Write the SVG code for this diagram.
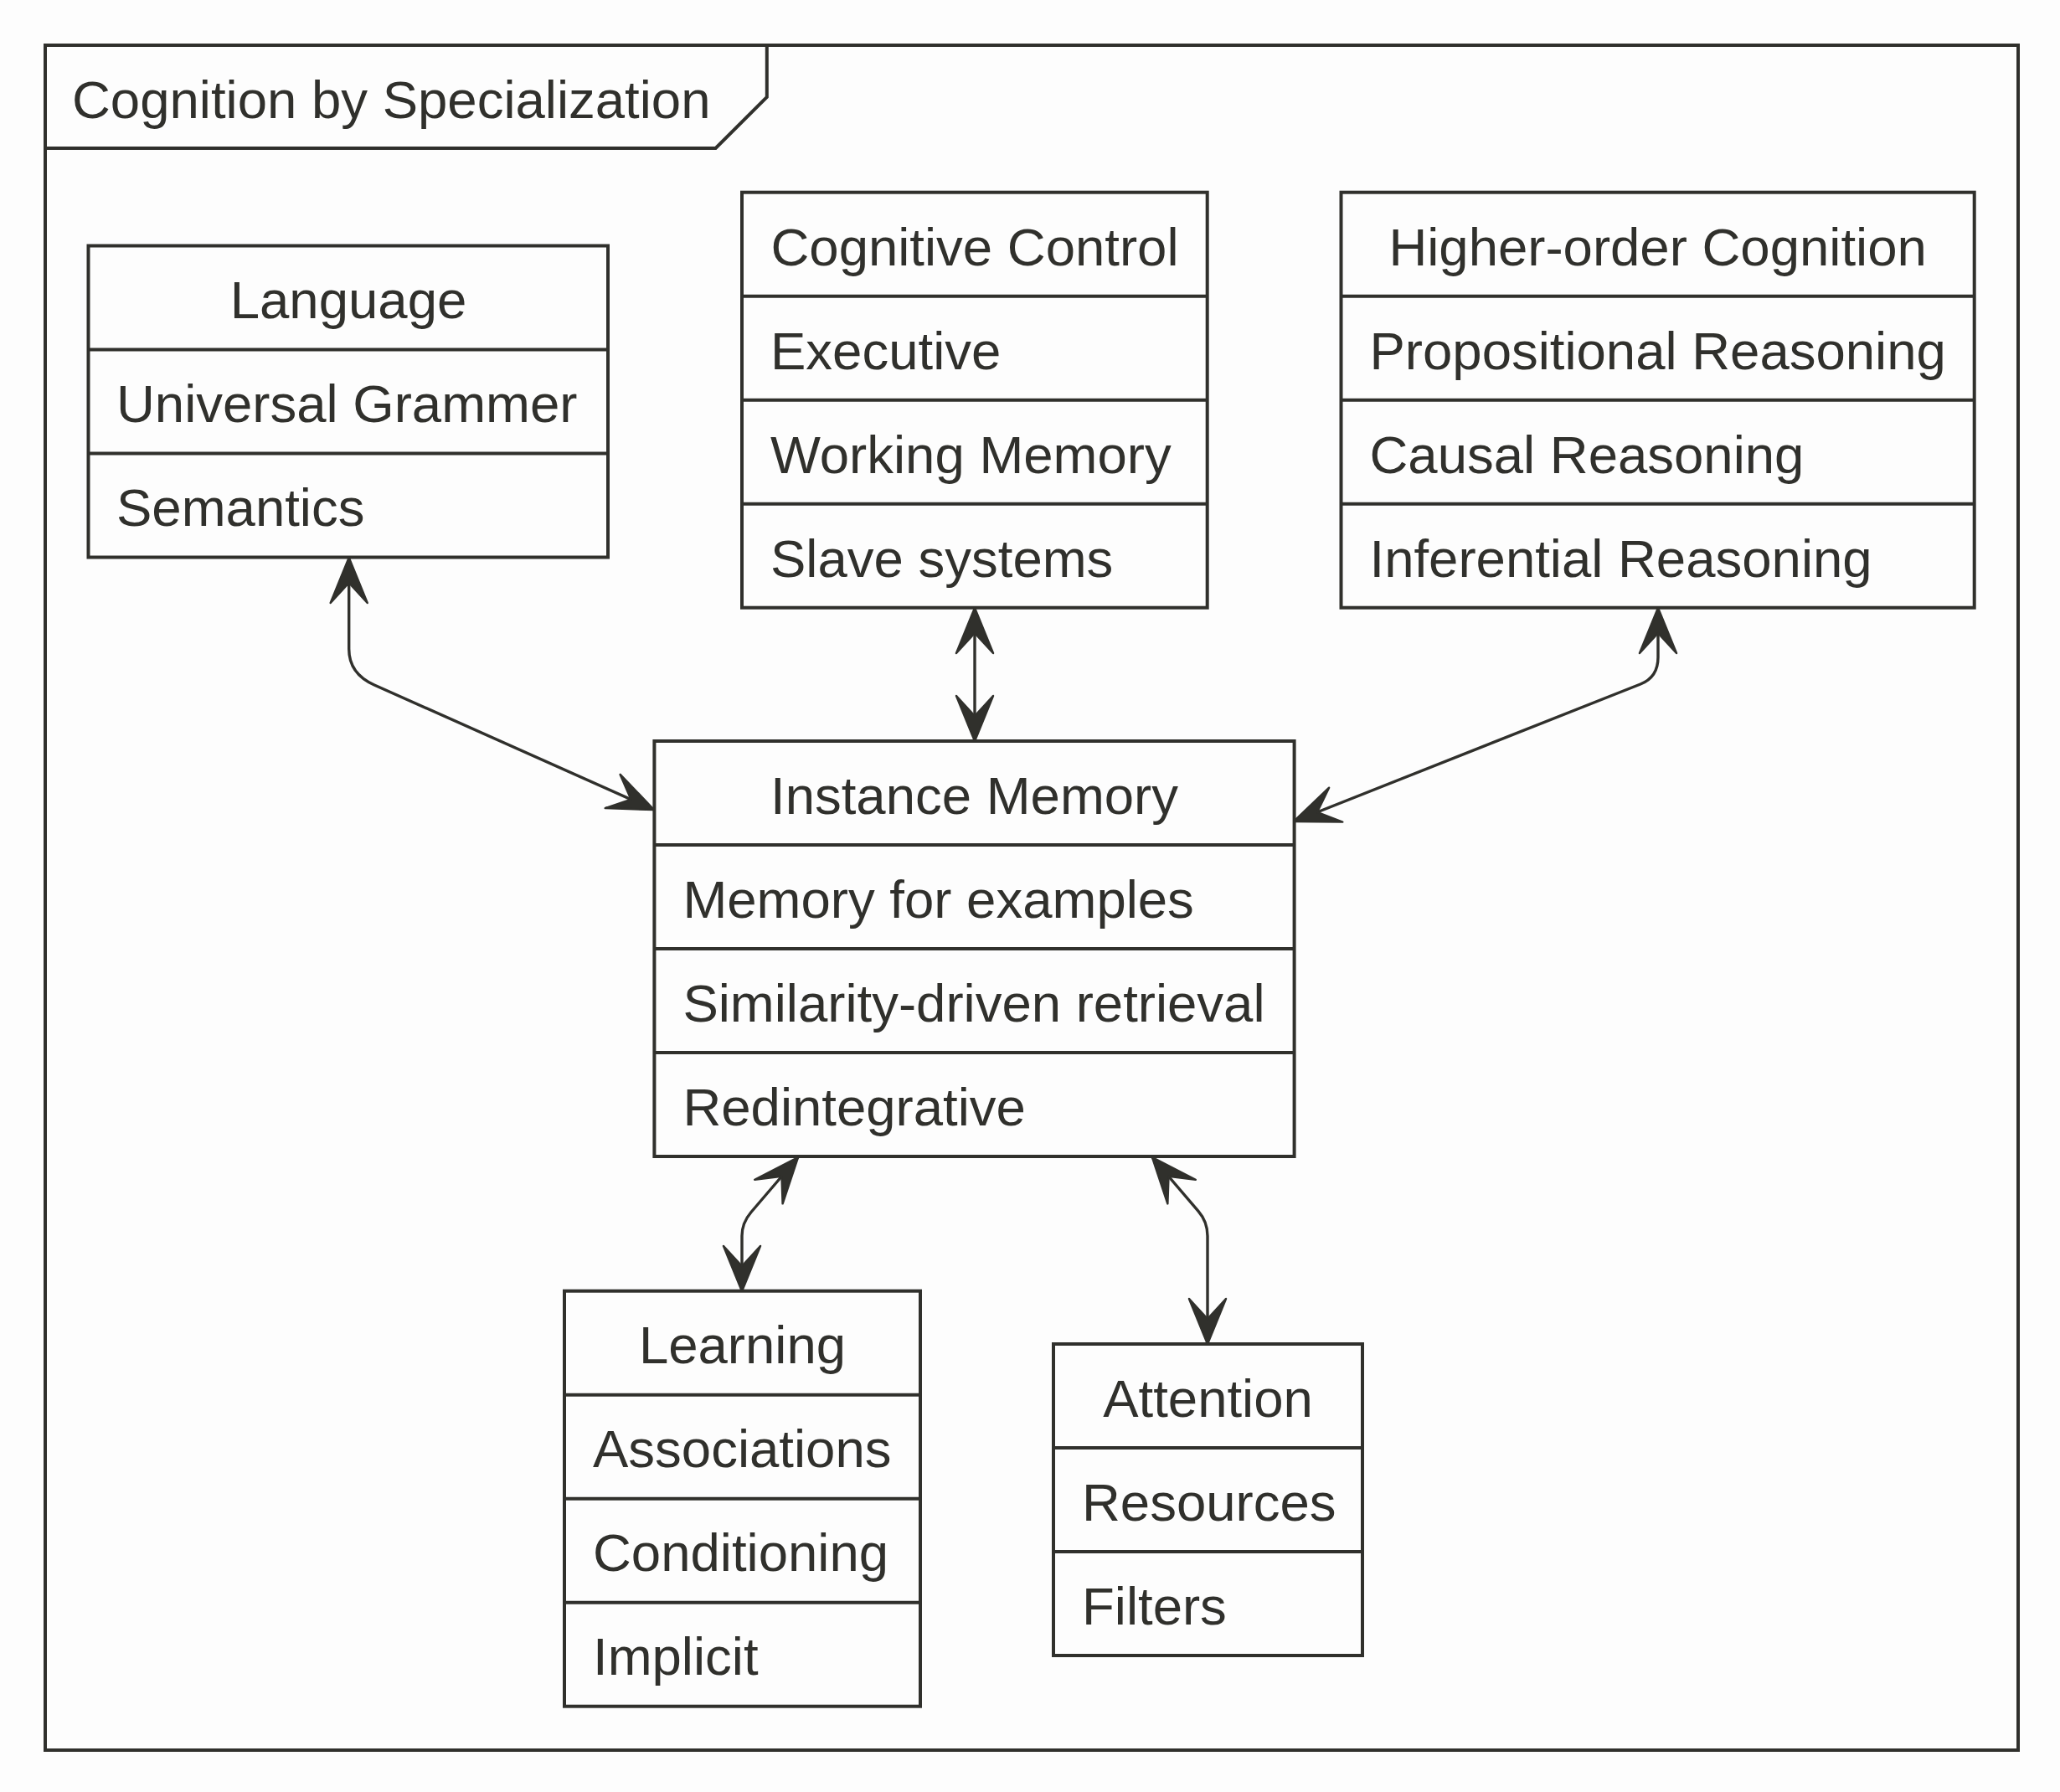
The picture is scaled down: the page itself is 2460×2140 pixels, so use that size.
<svg xmlns="http://www.w3.org/2000/svg" width="2460" height="2140" viewBox="0 0 2460 2140">
  <style>
    .box { fill: #fdfdfd; stroke: #30302c; stroke-width: 4; }
    .sep { stroke: #30302c; stroke-width: 4; }
    .frame { fill: none; stroke: #30302c; stroke-width: 4; stroke-linejoin: miter; }
    .t { font-family: "Liberation Sans", Arial, Helvetica, sans-serif; font-size: 63.5px; fill: #30302c; }
    .hd { text-anchor: middle; }
    .link { fill: none; stroke: #30302c; stroke-width: 3.4; marker-start: url(#head); marker-end: url(#head); }
  </style>
  <defs>
    <!-- notched filled arrowhead, tip at the path end -->
    <marker id="head" markerUnits="userSpaceOnUse" orient="auto-start-reverse" refX="0" refY="0" markerWidth="60" markerHeight="60" overflow="visible">
      <path d="M0,0 L-54,-22 L-30,0 L-54,22 Z" fill="#30302c" stroke="#30302c" stroke-width="2.5" stroke-linejoin="round"/>
    </marker>
  </defs>

  <rect x="0" y="0" width="2460" height="2140" fill="#fdfdfd"/>

  <!-- package frame with title tab -->
  <g id="frame">
    <rect class="frame" x="54" y="54" width="2356" height="2036"/>
    <path class="frame" d="M54,177 L854.6,177 L915.8,116 L915.8,54"/>
    <text class="t" x="86" y="141">Cognition by Specialization</text>
  </g>

  <!-- connectors -->
  <g id="connectors">
    <path class="link" d="M416.7,666 L416.7,775 Q416.7,804.5 447,818 L781,967"/>
    <path class="link" d="M1164,726 L1164,885"/>
    <path class="link" d="M1980,726 L1980,785 Q1980,808.7 1959,817 L1545,981"/>
    <path class="link" d="M953,1382 L897,1447.5 Q886,1460.4 886,1476 L886,1542"/>
    <path class="link" d="M1376,1382 L1431,1446.4 Q1442,1459 1442,1476 L1442,1605"/>
  </g>

  <g id="language">
    <rect class="box" x="105.5" y="293.5" width="620.5" height="372"/>
    <line class="sep" x1="105.5" y1="417.5" x2="726" y2="417.5"/>
    <line class="sep" x1="105.5" y1="541.5" x2="726" y2="541.5"/>
    <text class="t hd" x="416" y="380">Language</text>
    <text class="t" x="139" y="504">Universal Grammer</text>
    <text class="t" x="139" y="628">Semantics</text>
  </g>

  <g id="cognitive-control">
    <rect class="box" x="886" y="229.7" width="555.7" height="496"/>
    <line class="sep" x1="886" y1="353.7" x2="1441.7" y2="353.7"/>
    <line class="sep" x1="886" y1="477.7" x2="1441.7" y2="477.7"/>
    <line class="sep" x1="886" y1="601.7" x2="1441.7" y2="601.7"/>
    <text class="t hd" x="1164" y="316.5">Cognitive Control</text>
    <text class="t" x="920" y="440.5">Executive</text>
    <text class="t" x="920" y="564.5">Working Memory</text>
    <text class="t" x="920" y="688.5">Slave systems</text>
  </g>

  <g id="higher-order-cognition">
    <rect class="box" x="1601.5" y="229.7" width="756.2" height="496"/>
    <line class="sep" x1="1601.5" y1="353.7" x2="2357.7" y2="353.7"/>
    <line class="sep" x1="1601.5" y1="477.7" x2="2357.7" y2="477.7"/>
    <line class="sep" x1="1601.5" y1="601.7" x2="2357.7" y2="601.7"/>
    <text class="t hd" x="1979.6" y="316.5">Higher-order Cognition</text>
    <text class="t" x="1635.5" y="440.5">Propositional Reasoning</text>
    <text class="t" x="1635.5" y="564.5">Causal Reasoning</text>
    <text class="t" x="1635.5" y="688.5">Inferential Reasoning</text>
  </g>

  <g id="instance-memory">
    <rect class="box" x="781.4" y="885" width="764.2" height="496"/>
    <line class="sep" x1="781.4" y1="1009" x2="1545.6" y2="1009"/>
    <line class="sep" x1="781.4" y1="1133" x2="1545.6" y2="1133"/>
    <line class="sep" x1="781.4" y1="1257" x2="1545.6" y2="1257"/>
    <text class="t hd" x="1163.5" y="971.5">Instance Memory</text>
    <text class="t" x="815.4" y="1095.5">Memory for examples</text>
    <text class="t" x="815.4" y="1219.5">Similarity-driven retrieval</text>
    <text class="t" x="815.4" y="1343.5">Redintegrative</text>
  </g>

  <g id="learning">
    <rect class="box" x="674" y="1541.7" width="425" height="496"/>
    <line class="sep" x1="674" y1="1665.7" x2="1099" y2="1665.7"/>
    <line class="sep" x1="674" y1="1789.7" x2="1099" y2="1789.7"/>
    <line class="sep" x1="674" y1="1913.7" x2="1099" y2="1913.7"/>
    <text class="t hd" x="886.5" y="1628.2">Learning</text>
    <text class="t" x="708" y="1752.2">Associations</text>
    <text class="t" x="708" y="1876.2">Conditioning</text>
    <text class="t" x="708" y="2000.2">Implicit</text>
  </g>

  <g id="attention">
    <rect class="box" x="1258" y="1605" width="369" height="372"/>
    <line class="sep" x1="1258" y1="1729" x2="1627" y2="1729"/>
    <line class="sep" x1="1258" y1="1853" x2="1627" y2="1853"/>
    <text class="t hd" x="1442.5" y="1691.5">Attention</text>
    <text class="t" x="1292" y="1815.5">Resources</text>
    <text class="t" x="1292" y="1939.5">Filters</text>
  </g>
</svg>
